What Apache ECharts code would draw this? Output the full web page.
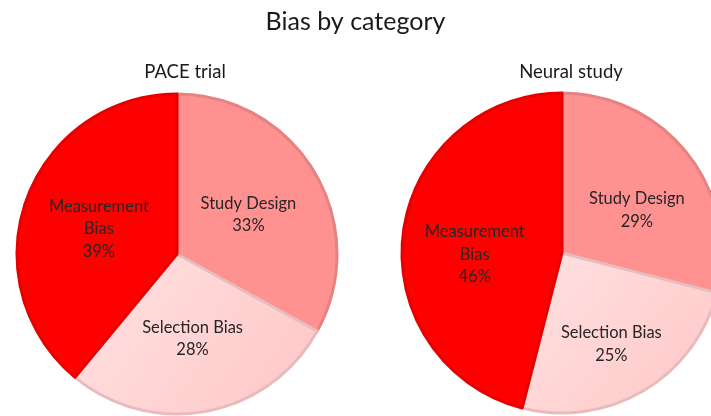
<!DOCTYPE html>
<html><head><meta charset="utf-8">
<script src="https://cdn.jsdelivr.net/npm/echarts@6/dist/echarts.min.js"></script>
<style>html,body{margin:0;padding:0;background:#fff}#c{width:711px;height:416px}</style>
</head><body><div id="c"></div>
<script>
const categories = ['Study Design', 'Selection Bias', 'Measurement Bias'];
const labelNames = ['Study Design', 'Selection Bias', 'Measurement\nBias'];
const paceValues = [33, 28, 39];
const neuralValues = [29, 25, 46];
const chartTitle = 'Bias by category';
const pieTitles = ['PACE trial', 'Neural study'];

const fills = ['#FF9191', { type: 'linear', x: 0, y: 0, x2: 1, y2: 1, colorStops: [{ offset: 0, color: '#FFE2E2' }, { offset: 1, color: '#FFC6C6' }] }, '#FF0000'];
const borders = ['#E58383', '#E8BCBC', '#E60000'];
const font = 'Lato, "Open Sans", sans-serif';

function mk(vals) {
  return categories.map((c, i) => ({
    name: c, value: vals[i],
    itemStyle: { color: fills[i], borderColor: borders[i], borderWidth: 3 }
  }));
}
function mkLabels(vals) {
  return categories.map((c, i) => ({
    name: c, value: vals[i],
    label: { formatter: labelNames[i] + '\n{d}%' }
  }));
}
const chart = echarts.init(document.getElementById('c'));
const pieBase = {
  type: 'pie', radius: 160, startAngle: 90, clockwise: true,
  label: { show: false }, labelLine: { show: false }, emphasis: { disabled: true }, animation: false
};
const labelBase = {
  type: 'pie', startAngle: 90, clockwise: true, silent: true, z: 5,
  itemStyle: { color: 'rgba(0,0,0,0)', borderWidth: 0 },
  label: { show: true, position: 'inner', color: '#262626', fontSize: 16.5, fontFamily: font, lineHeight: 22.5 },
  labelLine: { show: false }, emphasis: { disabled: true }, animation: false
};
chart.setOption({
  animation: false,
  title: [
    { text: chartTitle, left: 'center', top: 4, textStyle: { fontSize: 25, fontWeight: 'normal', color: '#1a1a1a', fontFamily: font } },
    { text: pieTitles[0], left: 180, textAlign: 'center', top: 58, textStyle: { fontSize: 18.5, fontWeight: 'normal', color: '#1a1a1a', fontFamily: font } },
    { text: pieTitles[1], left: 566, textAlign: 'center', top: 58, textStyle: { fontSize: 18.5, fontWeight: 'normal', color: '#1a1a1a', fontFamily: font } }
  ],
  series: [
    Object.assign({}, pieBase, { center: [177, 254], data: mk(paceValues) }),
    Object.assign({}, pieBase, { center: [562, 253], data: mk(neuralValues) }),
    Object.assign({}, labelBase, { center: [177, 257], radius: 160, data: mkLabels(paceValues) }),
    Object.assign({}, labelBase, { center: [565, 266], radius: 176, data: mkLabels(neuralValues) })
  ]
});
</script></body></html>
